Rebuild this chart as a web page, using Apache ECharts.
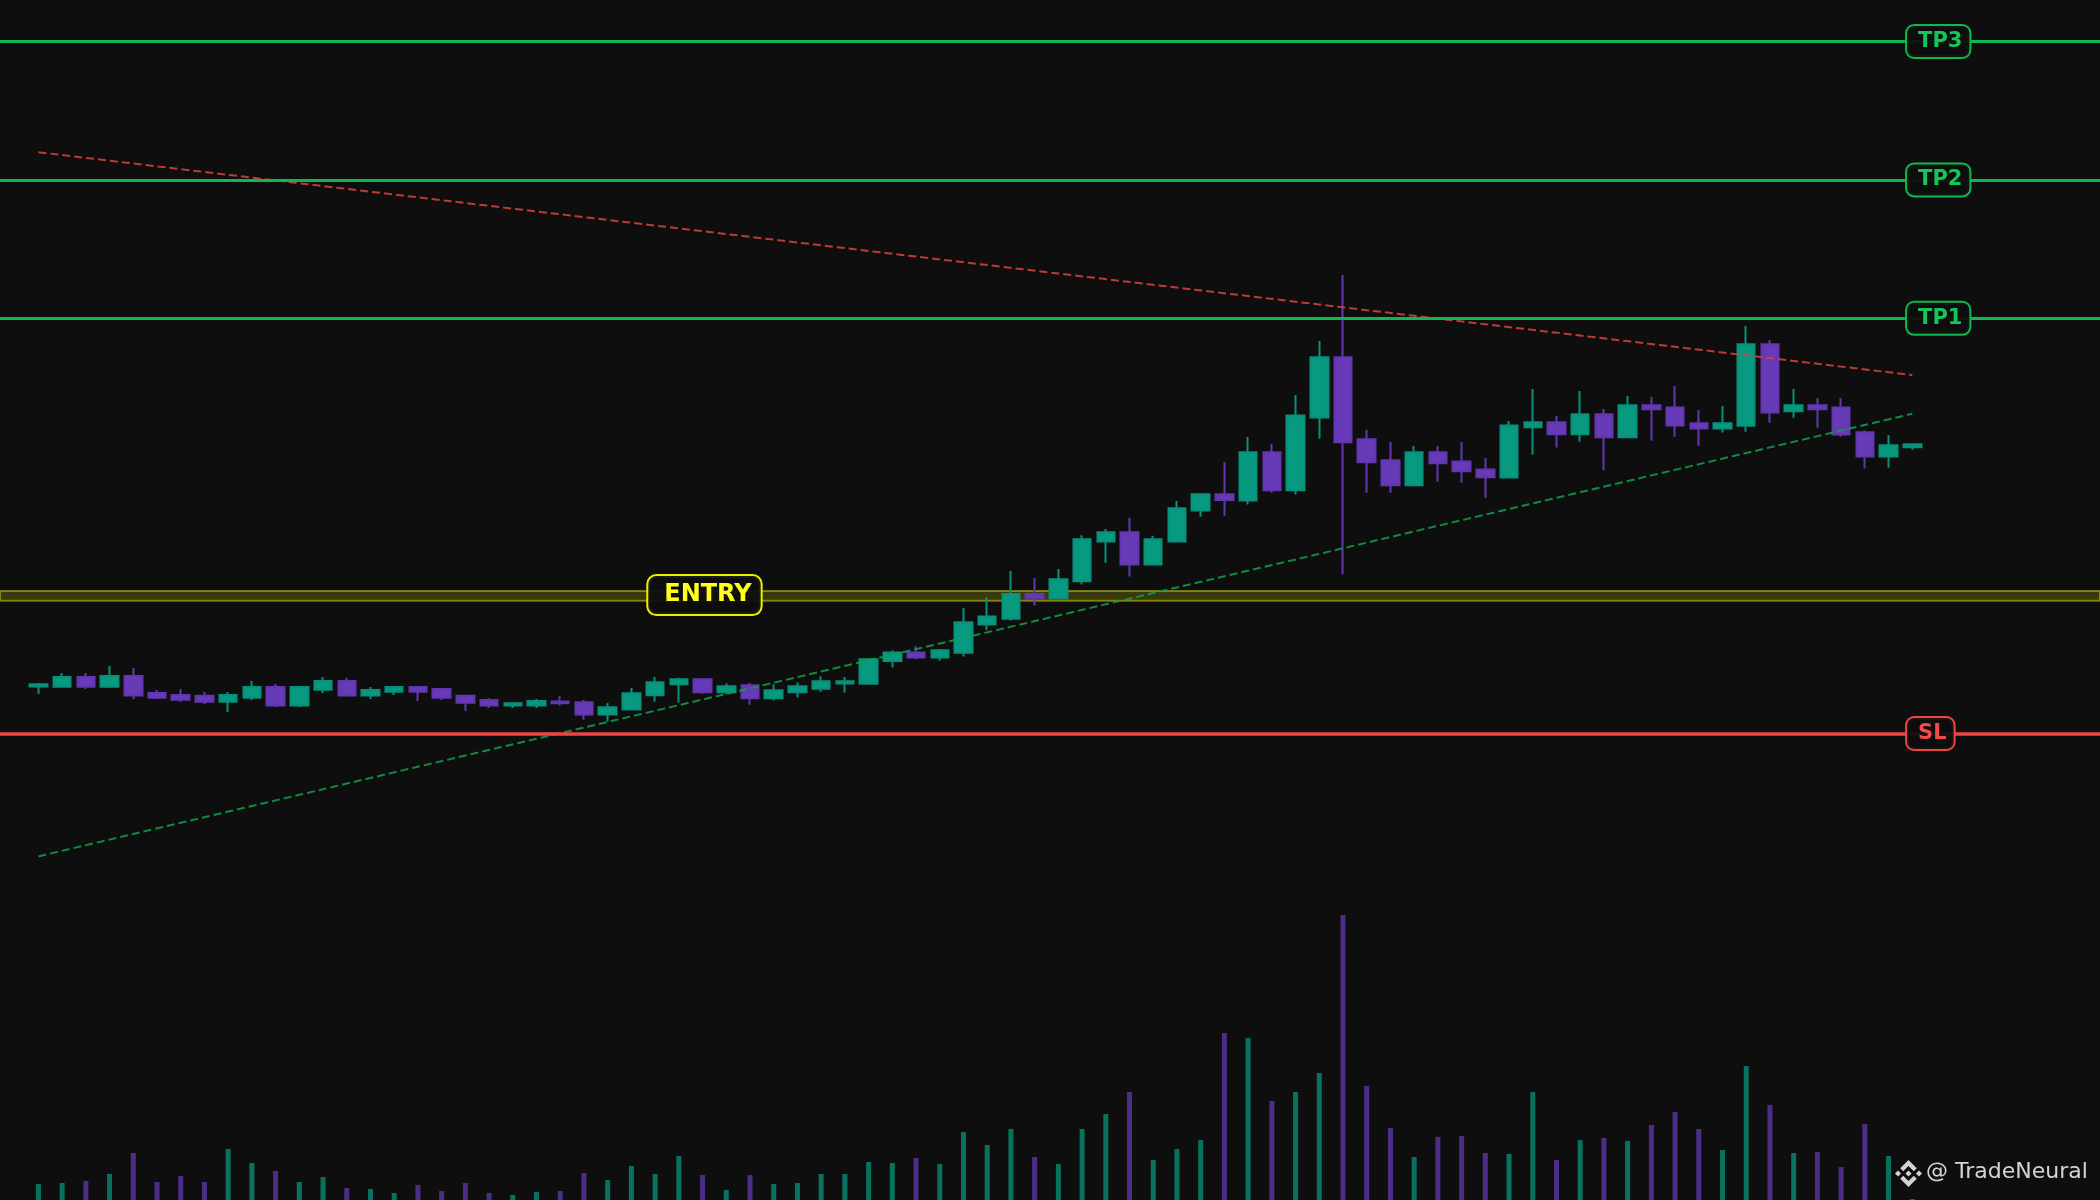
<!DOCTYPE html>
<html>
<head>
<meta charset="utf-8">
<title>TradeNeural setup</title>
<script src="https://cdn.jsdelivr.net/npm/echarts/dist/echarts.min.js"></script>
<style>
  html, body { margin: 0; padding: 0; background: #0e0e0e; }
  #chart { width: 2100px; height: 1200px; }
</style>
</head>
<body>
<div id="chart"></div>
<script>
// ---- price data (one entry per candle) ----
const opens = [
  96.70, 96.69, 97.04, 96.69, 97.08, 96.46, 96.39, 96.36, 96.15, 96.29,
  96.68, 96.01, 96.58, 96.90, 96.37, 96.51, 96.68, 96.61, 96.36, 96.21,
  96.01, 96.01, 96.16, 96.13, 95.69, 95.87, 96.38, 96.78, 96.96, 96.49,
  96.74, 96.27, 96.49, 96.62, 96.81, 96.80, 97.62, 97.93, 97.75, 97.92,
  98.94, 99.15, 100.04, 99.88, 100.50, 101.94, 102.27, 101.11, 101.94, 103.06,
  103.64, 103.42, 105.16, 103.79, 106.42, 108.59, 105.63, 104.87, 103.97, 105.16,
  104.83, 104.54, 104.25, 106.06, 106.24, 105.81, 106.53, 105.70, 106.86, 106.78,
  106.21, 106.02, 106.12, 109.06, 106.64, 106.86, 106.78, 105.88, 105.01, 105.34
];
const closes = [
  96.78, 97.04, 96.69, 97.08, 96.37, 96.29, 96.22, 96.15, 96.39, 96.68,
  96.01, 96.68, 96.90, 96.37, 96.57, 96.68, 96.51, 96.29, 96.11, 96.01,
  96.09, 96.17, 96.09, 95.69, 95.95, 96.45, 96.85, 96.96, 96.49, 96.71,
  96.27, 96.56, 96.71, 96.89, 96.89, 97.68, 97.93, 97.75, 98.01, 99.02,
  99.23, 100.04, 99.88, 100.57, 102.02, 102.27, 101.11, 102.02, 103.14, 103.64,
  103.44, 105.16, 103.79, 106.49, 108.59, 105.52, 104.80, 103.97, 105.16, 104.76,
  104.47, 104.26, 106.13, 106.24, 105.81, 106.53, 105.70, 106.86, 106.71, 106.13,
  106.02, 106.21, 109.06, 106.60, 106.86, 106.71, 105.80, 105.01, 105.41, 105.45
];
const lows = [
  96.43, 96.68, 96.61, 96.64, 96.25, 96.25, 96.14, 96.07, 95.78, 96.21,
  95.96, 95.96, 96.46, 96.37, 96.25, 96.39, 96.17, 96.21, 95.81, 95.92,
  95.92, 95.92, 96.01, 95.50, 95.43, 95.85, 96.15, 96.12, 96.44, 96.42,
  96.04, 96.19, 96.30, 96.51, 96.48, 96.77, 97.38, 97.68, 97.63, 97.78,
  98.74, 99.08, 99.62, 99.86, 100.38, 101.17, 100.67, 101.11, 101.94, 102.83,
  102.87, 103.27, 103.70, 103.63, 105.65, 100.74, 103.70, 103.70, 103.92, 104.10,
  104.06, 103.52, 104.21, 105.07, 105.33, 105.54, 104.50, 105.68, 105.58, 105.72,
  105.40, 105.87, 105.90, 106.23, 106.41, 106.05, 105.72, 104.57, 104.60, 105.25
];
const highs = [
  96.82, 97.19, 97.19, 97.44, 97.37, 96.57, 96.61, 96.50, 96.50, 96.90,
  96.79, 96.68, 97.04, 97.01, 96.68, 96.68, 96.68, 96.61, 96.39, 96.28,
  96.14, 96.25, 96.36, 96.21, 96.10, 96.64, 97.04, 97.01, 96.96, 96.81,
  96.83, 96.78, 96.85, 97.07, 97.04, 97.73, 98.01, 98.16, 98.05, 99.53,
  99.93, 100.87, 100.62, 100.94, 102.16, 102.39, 102.79, 102.14, 103.40, 103.69,
  104.81, 105.71, 105.46, 107.23, 109.18, 111.56, 105.97, 105.53, 105.39, 105.39,
  105.53, 104.95, 106.29, 107.45, 106.47, 107.37, 106.72, 107.19, 107.16, 107.55,
  106.69, 106.83, 109.72, 109.22, 107.45, 107.12, 107.12, 105.95, 105.78, 105.45
];
const volumes = [
  160, 170, 190, 260, 470, 180, 240, 180, 510, 370,
  290, 180, 230, 120, 110, 70, 150, 90, 170, 70,
  50, 80, 90, 270, 200, 340, 260, 440, 250, 100,
  250, 160, 170, 260, 260, 380, 370, 420, 360, 680,
  550, 710, 430, 360, 710, 860, 1080, 400, 510, 600,
  1670, 1620, 990, 1080, 1270, 2850, 1140, 720, 430, 630,
  640, 470, 460, 1080, 400, 600, 620, 590, 750, 880,
  710, 500, 1340, 950, 470, 480, 330, 760, 440, 10
];

// ---- trade levels ----
const levelNames = ['TP3', 'TP2', 'TP1', 'ENTRY', 'SL'];
const levelPrices = [120, 115, 110, 100, 95];
const entryZone = [99.80, 100.15];

// ---- trend lines: [candle index, price] ----
const resistanceLine = [[0, 116.00], [79, 107.95]];
const supportLine = [[0, 90.56], [79, 106.55]];

// ---- styling ----
const BG = '#0e0e0e';
const UP = '#089981';
const DOWN = '#673ab7';
const TP_GREEN = '#10b64f';
const SL_RED = '#f04444';
const ENTRY_YELLOW = '#eded00';

const X_MIN = -1.619, X_MAX = 86.914;
const Y_MIN = 78.147, Y_MAX = 121.499;
const TAG_X_RIGHT = 78.76;
const TAG_X_ENTRY = 25.69;

const candleData = opens.map((o, i) => [i, o, closes[i], lows[i], highs[i]]);
const volumeData = volumes.map((v, i) => ({
  value: [i, v],
  itemStyle: { color: closes[i] >= opens[i] ? UP : DOWN }
}));

function levelColor(name) {
  if (name === 'SL') return SL_RED;
  if (name === 'ENTRY') return ENTRY_YELLOW;
  return TP_GREEN;
}

const levelLines = levelNames
  .map((n, i) => ({ n, p: levelPrices[i] }))
  .filter(d => d.n !== 'ENTRY')
  .map(d => ({
    yAxis: d.p,
    lineStyle: { color: levelColor(d.n), width: d.n === 'SL' ? 3.6 : 3, type: 'solid', opacity: 1 }
  }));

const tagData = levelNames.map((n, i) => {
  const isEntry = n === 'ENTRY';
  return {
    name: n,
    value: [isEntry ? TAG_X_ENTRY : TAG_X_RIGHT, levelPrices[i]],
    label: isEntry ? {
      color: '#ffff1a',
      borderColor: ENTRY_YELLOW,
      fontSize: 24,
      lineHeight: 24,
      borderRadius: 8,
      padding: [7, 9, 7, 16]
    } : {
      color: n === 'SL' ? '#f44a4a' : '#14c659',
      borderColor: levelColor(n),
      fontSize: 21,
      lineHeight: 21,
      borderRadius: 7,
      padding: [5, 7, 5, 11]
    }
  };
});

// Binance mark for the watermark (126.6 unit box)
const logoParts = [
  [[38.73, 53.2], [63.3, 28.63], [87.9, 53.22], [102.2, 38.92], [63.3, 0], [24.42, 38.9]],
  [[0, 63.31], [14.3, 49.01], [28.6, 63.31], [14.3, 77.61]],
  [[63.3, 48.99], [77.61, 63.3], [63.3, 77.61], [48.99, 63.3]],
  [[98.03, 63.31], [112.33, 49.01], [126.63, 63.31], [112.33, 77.61]],
  [[87.9, 73.4], [63.3, 97.98], [38.73, 73.41], [24.41, 87.69], [63.3, 126.61], [102.2, 87.69]]
];
const LOGO_SCALE = 27 / 126.6;

const chart = echarts.init(document.getElementById('chart'), null, { renderer: 'canvas' });

chart.setOption({
  backgroundColor: BG,
  animation: false,
  grid: [
    { left: 0, right: 0, top: 0, bottom: 0 },
    { left: 0, right: 0, top: 915, bottom: 0 }
  ],
  xAxis: [
    { type: 'value', gridIndex: 0, min: X_MIN, max: X_MAX, show: false },
    { type: 'value', gridIndex: 1, min: X_MIN, max: X_MAX, show: false }
  ],
  yAxis: [
    { type: 'value', gridIndex: 0, min: Y_MIN, max: Y_MAX, show: false },
    { type: 'value', gridIndex: 1, min: 0, max: 2850, show: false }
  ],
  series: [
    {
      name: 'Volume',
      type: 'bar',
      xAxisIndex: 1,
      yAxisIndex: 1,
      data: volumeData,
      barWidth: 5,
      itemStyle: { opacity: 0.72 },
      silent: true,
      z: 1
    },
    {
      name: 'Price',
      type: 'candlestick',
      xAxisIndex: 0,
      yAxisIndex: 0,
      data: candleData,
      barWidth: 18,
      itemStyle: {
        color: UP,
        color0: DOWN,
        borderColor: '#07917a',
        borderColor0: '#6236b0',
        borderWidth: 2
      },
      silent: true,
      z: 2
    },
    {
      name: 'Resistance',
      type: 'line',
      data: resistanceLine,
      symbol: 'none',
      lineStyle: { color: '#d9433f', width: 2, type: [8, 4], opacity: 0.85 },
      silent: true,
      z: 3
    },
    {
      name: 'Support',
      type: 'line',
      data: supportLine,
      symbol: 'none',
      lineStyle: { color: '#12a04a', width: 2, type: [8, 4], opacity: 0.85 },
      silent: true,
      z: 3
    },
    {
      name: 'Levels',
      type: 'scatter',
      data: levelNames.map((n, i) => [TAG_X_RIGHT, levelPrices[i]]),
      symbolSize: 0,
      itemStyle: { color: 'transparent', opacity: 1 },
      silent: true,
      z: 4,
      markLine: {
        silent: true,
        symbol: ['none', 'none'],
        label: { show: false },
        data: levelLines
      },
      markArea: {
        silent: true,
        itemStyle: {
          color: 'rgba(170,170,0,0.28)',
          borderColor: 'rgba(200,200,20,0.55)',
          borderWidth: 2,
          opacity: 1
        },
        data: [[{ yAxis: entryZone[0] }, { yAxis: entryZone[1] }]]
      }
    },
    {
      name: 'Tags',
      type: 'scatter',
      data: tagData,
      symbolSize: 1,
      itemStyle: { color: 'transparent', opacity: 1 },
      silent: true,
      z: 6,
      label: {
        show: true,
        position: 'right',
        distance: 0,
        formatter: '{b}',
        fontFamily: 'DejaVu Sans',
        fontWeight: 'bold',
        backgroundColor: 'rgba(14,14,14,0.94)',
        borderWidth: 2
      }
    }
  ],
  graphic: [
    {
      type: 'group',
      x: 1895,
      y: 1160,
      scaleX: LOGO_SCALE,
      scaleY: LOGO_SCALE,
      silent: true,
      children: logoParts.map(pts => ({
        type: 'polygon',
        shape: { points: pts },
        style: { fill: 'rgba(228,228,228,0.92)' }
      }))
    },
    {
      type: 'text',
      x: 1926,
      y: 1183,
      silent: true,
      style: {
        text: '@ TradeNeural',
        fill: 'rgba(228,228,228,0.92)',
        font: '22px "DejaVu Sans"',
        textVerticalAlign: 'bottom',
        verticalAlign: 'bottom'
      }
    }
  ]
});
</script>
</body>
</html>
